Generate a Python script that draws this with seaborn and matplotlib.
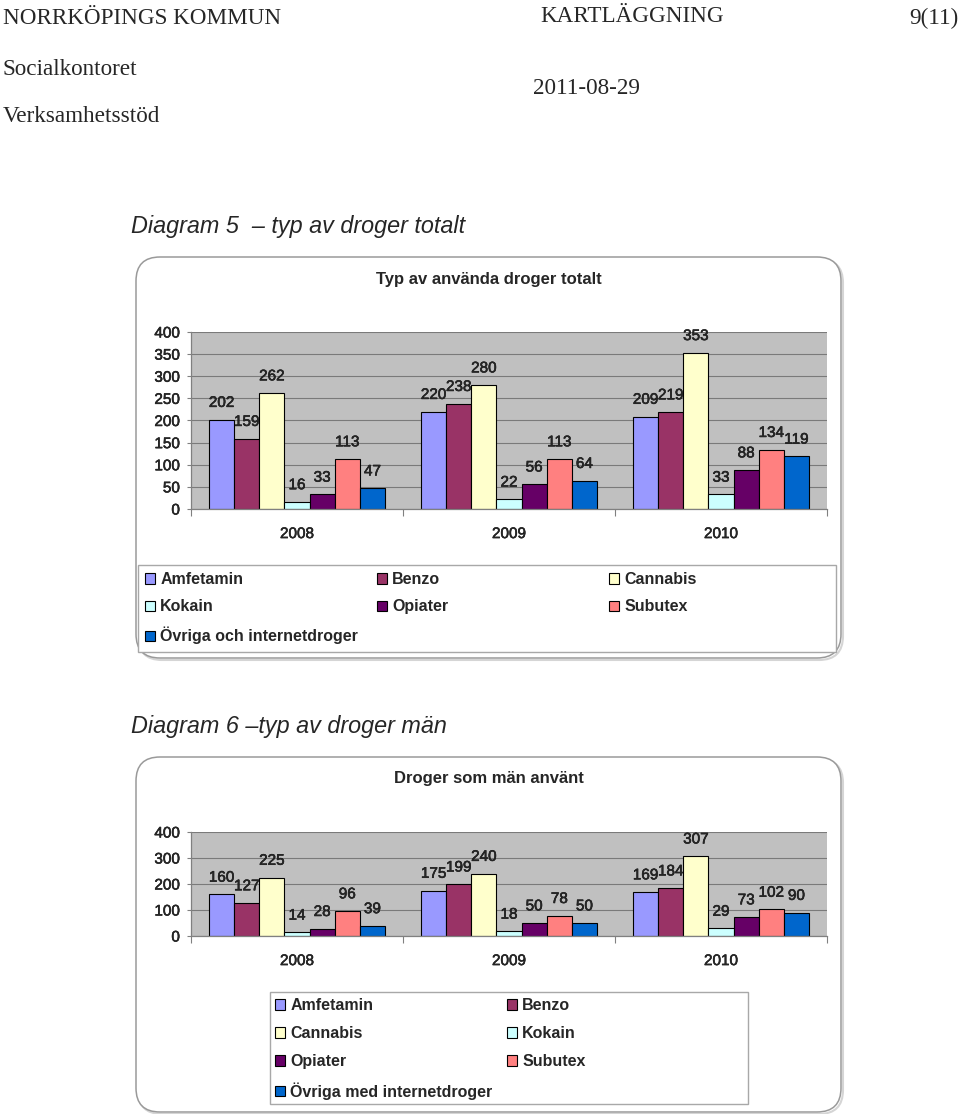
import numpy as np
import pandas as pd
import matplotlib
matplotlib.use("Agg")
import matplotlib.pyplot as plt
import matplotlib.patheffects as pe
import seaborn as sns
from matplotlib.patches import FancyBboxPatch, Rectangle, Patch

# ---------------- data ----------------
years = ["2008", "2009", "2010"]
drugs_total = ["Amfetamin", "Benzo", "Cannabis", "Kokain", "Opiater", "Subutex",
               "Övriga och internetdroger"]
drugs_men = ["Amfetamin", "Benzo", "Cannabis", "Kokain", "Opiater", "Subutex",
             "Övriga med internetdroger"]
colors = ["#9999FF", "#993366", "#FFFFCC", "#CCFFFF", "#660066", "#FF8080", "#0066CC"]

total_amfetamin = [202, 220, 209]
total_benzo = [159, 238, 219]
total_cannabis = [262, 280, 353]
total_kokain = [16, 22, 33]
total_opiater = [33, 56, 88]
total_subutex = [113, 113, 134]
total_ovriga = [47, 64, 119]

men_amfetamin = [160, 175, 169]
men_benzo = [127, 199, 184]
men_cannabis = [225, 240, 307]
men_kokain = [14, 18, 29]
men_opiater = [28, 50, 73]
men_subutex = [96, 78, 102]
men_ovriga = [39, 50, 90]

total_series = [total_amfetamin, total_benzo, total_cannabis, total_kokain,
                total_opiater, total_subutex, total_ovriga]
men_series = [men_amfetamin, men_benzo, men_cannabis, men_kokain,
              men_opiater, men_subutex, men_ovriga]


def long_df(names, series):
    rows = []
    for n, s in zip(names, series):
        for y, v in zip(years, s):
            rows.append({"year": y, "drug": n, "value": v})
    return pd.DataFrame(rows)


df_total = long_df(drugs_total, total_series)
df_men = long_df(drugs_men, men_series)

# ---------------- style ----------------
sns.set_theme(style="white")
plt.rcParams["font.family"] = ["Liberation Sans", "DejaVu Sans"]

W, H = 960, 1114
fig = plt.figure(figsize=(W / 100, H / 100), dpi=100)
fig.patch.set_facecolor("white")

bg = fig.add_axes([0, 0, 1, 1])
bg.set_xlim(0, W)
bg.set_ylim(H, 0)
bg.axis("off")

serif = ["Liberation Serif", "DejaVu Serif"]
hs = 16.7
bg.text(3, 24, "NORRKÖPINGS KOMMUN", family=serif, fontsize=hs, va="baseline", ha="left")
bg.text(540, 22, "KARTLÄGGNING", family=serif, fontsize=hs, va="baseline", ha="left")
bg.text(958, 24, "9(11)", family=serif, fontsize=hs, va="baseline", ha="right")
bg.text(3, 75, "Socialkontoret", family=serif, fontsize=hs, va="baseline", ha="left")
bg.text(533, 94, "2011-08-29", family=serif, fontsize=hs, va="baseline", ha="left")
bg.text(3, 122, "Verksamhetsstöd", family=serif, fontsize=hs, va="baseline", ha="left")

bg.text(131, 233, "Diagram 5  – typ av droger totalt", fontsize=16.8, style="italic",
        va="baseline", ha="left")
bg.text(131, 733, "Diagram 6 –typ av droger män", fontsize=16.8, style="italic",
        va="baseline", ha="left")

# chart frames
for (x0, y0, w, h) in [(136, 257, 705, 401), (136, 757, 705, 355)]:
    shadow = FancyBboxPatch((x0 + 2, y0 + 2), w, h,
                            boxstyle="round,pad=0,rounding_size=24",
                            edgecolor="#D5D5D5", facecolor="none", lw=1.5)
    bg.add_patch(shadow)
    frame = FancyBboxPatch((x0, y0), w, h, boxstyle="round,pad=0,rounding_size=24",
                           edgecolor="#9A9A9A", facecolor="white", lw=1.1)
    bg.add_patch(frame)

bg.text(489, 284, "Typ av använda droger totalt", fontsize=12, weight="bold",
        va="baseline", ha="center")
bg.text(489, 783, "Droger som män använt", fontsize=12, weight="bold",
        va="baseline", ha="center")

# legend frames
bg.add_patch(Rectangle((138, 565), 698, 87, edgecolor="#A8A8A8", facecolor="white", lw=1))
bg.add_patch(Rectangle((270, 992), 478, 112, edgecolor="#A8A8A8", facecolor="white", lw=1))

thick = [pe.withStroke(linewidth=0.35, foreground="black")]


def style_axes(ax, step):
    ax.set_facecolor("#C0C0C0")
    ax.set_axisbelow(True)
    ax.set_xlim(-0.5, 2.5)
    ax.set_ylim(0, 400)
    ax.set_yticks(np.arange(0, 401, step))
    ax.yaxis.grid(True, color="#7A7A7A", lw=0.8)
    ax.xaxis.grid(False)
    ax.set_xlabel("")
    ax.set_ylabel("")
    for s in ["top", "right"]:
        ax.spines[s].set_visible(False)
    for s in ["left", "bottom"]:
        ax.spines[s].set_color("#808080")
        ax.spines[s].set_linewidth(0.9)
    ax.tick_params(axis="y", length=3, width=0.8, color="#808080", pad=5,
                   labelsize=11, left=True)
    ax.tick_params(axis="x", which="major", length=0, pad=13, labelsize=11)
    ax.set_xticks([-0.5, 0.5, 1.5, 2.5], minor=True)
    ax.tick_params(axis="x", which="minor", length=5, width=0.8, color="#808080",
                   bottom=True)
    for t in ax.get_xticklabels() + ax.get_yticklabels():
        t.set_path_effects(thick)


def draw_chart(rect, df, names, step):
    ax = fig.add_axes(rect)
    sns.barplot(data=df, x="year", y="value", hue="drug", order=years,
                hue_order=names, palette=colors, saturation=1, width=0.83,
                edgecolor="black", linewidth=0.8, legend=False, ax=ax)
    style_axes(ax, step)
    for c in ax.containers:
        for t in ax.bar_label(c, padding=7, fontsize=11):
            t.set_path_effects(thick)
    return ax


def fy(py):
    return 1 - py / H


ax1 = draw_chart([191 / W, fy(509), 636 / W, 177 / H], df_total, drugs_total, 50)
ax2 = draw_chart([191 / W, fy(936), 636 / W, 104 / H], df_men, drugs_men, 100)


def column_legend(labels, cols, x, ytop, spacing):
    handles = [Patch(facecolor=c, edgecolor="black", linewidth=0.8) for c in cols]
    fig.legend(handles, labels, loc="upper left", bbox_to_anchor=(x, ytop),
               bbox_transform=bg.transData, frameon=False, borderpad=0,
               borderaxespad=0, handlelength=0.62, handleheight=0.62,
               handletextpad=0.33, labelspacing=spacing,
               prop={"weight": "bold", "size": 11.5})


c = dict(zip(drugs_total, colors))
column_legend(["Amfetamin", "Kokain", "Övriga och internetdroger"],
              [c["Amfetamin"], c["Kokain"], c["Övriga och internetdroger"]], 145, 572, 0.78)
column_legend(["Benzo", "Opiater"], [c["Benzo"], c["Opiater"]], 377, 572, 0.78)
column_legend(["Cannabis", "Subutex"], [c["Cannabis"], c["Subutex"]], 609, 572, 0.78)

m = dict(zip(drugs_men, colors))
column_legend(["Amfetamin", "Cannabis", "Opiater", "Övriga med internetdroger"],
              [m["Amfetamin"], m["Cannabis"], m["Opiater"], m["Övriga med internetdroger"]],
              275, 998, 0.82)
column_legend(["Benzo", "Kokain", "Subutex"], [m["Benzo"], m["Kokain"], m["Subutex"]],
              507, 998, 0.82)

fig.savefig("out.png", dpi=100)
